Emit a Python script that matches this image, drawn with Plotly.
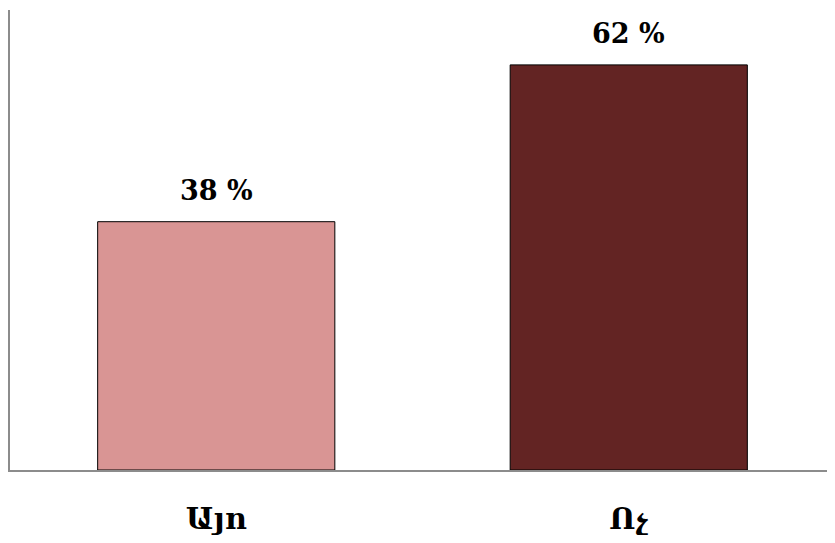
import plotly.graph_objects as go

categories = ["Այո", "Ոչ"]
values = [38, 62]
labels = ["38 %", "62 %"]
colors = ["#D99594", "#632423"]

fig = go.Figure(
    go.Bar(
        x=categories,
        y=values,
        marker=dict(color=colors, line=dict(color="black", width=1)),
        cliponaxis=False,
        hoverinfo="skip",
    )
)

for cat, val, lab in zip(categories, values, labels):
    fig.add_annotation(
        x=cat, y=val, text="<b>" + lab + "</b>", showarrow=False,
        yanchor="bottom", yshift=14,
        font=dict(family="DejaVu Serif", size=27, color="black"),
    )

fig.update_layout(
    width=827,
    height=535,
    margin=dict(l=2, r=0, t=2, b=73, autoexpand=False),
    paper_bgcolor="white",
    plot_bgcolor="white",
    bargap=0.425,
    showlegend=False,
    font=dict(family="DejaVu Serif", color="black"),
)
fig.update_xaxes(
    automargin=False,
    showline=True,
    linecolor="#8c8c8c",
    linewidth=2,
    showgrid=False,
    ticks="",
    tickfont=dict(family="DejaVu Serif", size=30, color="black", weight="bold"),
    ticklabelstandoff=21,
)
fig.update_yaxes(
    automargin=False,
    range=[0, 70.4],
    showline=True,
    linecolor="#8c8c8c",
    linewidth=2,
    showgrid=False,
    showticklabels=False,
    ticks="",
    zeroline=False,
)

fig.write_html("out.html")
